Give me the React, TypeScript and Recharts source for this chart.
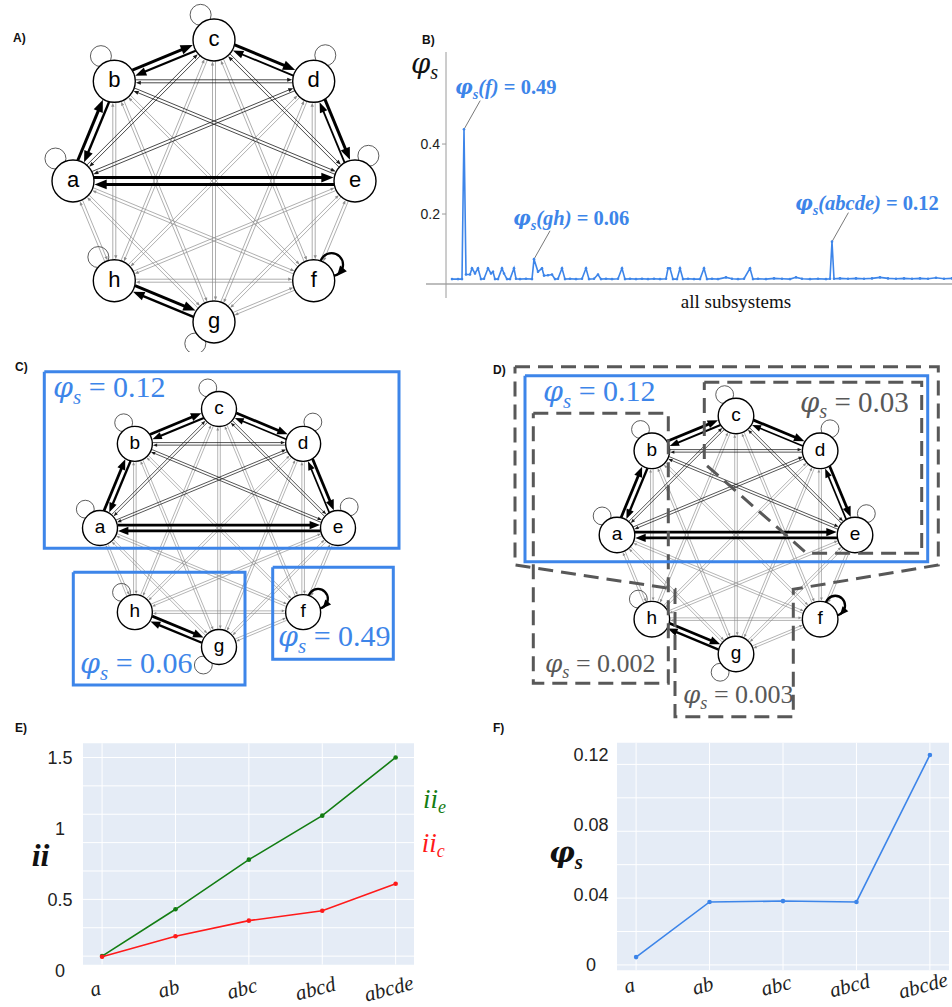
import React from 'react';
import { LineChart, ComposedChart, ScatterChart, Scatter, Line, XAxis, YAxis, ReferenceLine, ReferenceArea } from 'recharts';

const SERIF = "'Liberation Serif','DejaVu Serif','Times New Roman',serif";
const PHIFONT = "'DejaVu Serif','Liberation Serif',serif";
const SANS = "'Liberation Sans',Arial,'DejaVu Sans',sans-serif";
const BLUE = '#3d85e9';
const GREEN = '#137d13';
const RED = '#ff1a1a';
const GRAYBOX = '#585858';
const PLOTBG = '#E5ECF6';

// ---------------- data ----------------
// network: nodes clockwise from the top, every ordered pair is connected
const NODES = ['c', 'd', 'e', 'f', 'g', 'h', 'a', 'b'];
const PAIRS = ['ab', 'ac', 'ad', 'ae', 'af', 'ag', 'ah', 'bc', 'bd', 'be', 'bf', 'bg', 'bh', 'cd', 'ce', 'cf', 'cg', 'ch', 'de', 'df', 'dg', 'dh', 'ef', 'eg', 'eh', 'fg', 'fh', 'gh'];
const STRONG: Record<string, number> = {
  'a>b': 3, 'b>a': 2.5, 'b>c': 3, 'c>b': 2.2, 'c>d': 3, 'd>c': 1.8,
  'd>e': 3, 'e>d': 1.8, 'a>e': 3, 'e>a': 3, 'h>g': 3, 'g>h': 2.5,
};
const CORE = ['a', 'b', 'c', 'd', 'e'];

// panel B: phi_s over all subsystems (index, value)
const B_IDX = [0, 3, 5, 6, 7, 9, 10, 11.5, 13, 14.5, 16, 18, 19.5, 20.5, 21.5, 23, 25, 26, 27.5, 29, 31, 32, 34, 37, 40, 41, 43, 45, 46, 48, 50, 51.5, 53, 55, 56.5, 59, 62, 65, 67, 68.5, 71, 73, 74.5, 77, 80, 83, 85, 86.5, 89, 92, 95, 98, 101, 104, 107, 108, 109, 110.5, 112.5, 114, 115.5, 118, 121, 124, 126, 127.5, 130, 133, 137, 140, 143, 146, 149, 150.5, 153, 157, 161, 165, 169, 172, 175, 179, 183, 187, 189, 190, 191, 194, 198, 202, 206, 210, 214, 218, 222, 226, 230, 234, 238, 242, 246, 250];
const B_VAL = [0.014, 0.014, 0.014, 0.442, 0.027, 0.027, 0.045, 0.030, 0.045, 0.014, 0.015, 0.045, 0.030, 0.035, 0.014, 0.014, 0.045, 0.030, 0.014, 0.014, 0.045, 0.015, 0.014, 0.015, 0.014, 0.071, 0.035, 0.045, 0.024, 0.025, 0.027, 0.014, 0.015, 0.045, 0.014, 0.015, 0.014, 0.015, 0.045, 0.014, 0.015, 0.027, 0.014, 0.015, 0.014, 0.015, 0.045, 0.014, 0.015, 0.014, 0.015, 0.014, 0.015, 0.014, 0.015, 0.045, 0.045, 0.014, 0.014, 0.045, 0.014, 0.015, 0.014, 0.014, 0.045, 0.014, 0.015, 0.014, 0.019, 0.015, 0.014, 0.015, 0.045, 0.014, 0.015, 0.014, 0.016, 0.015, 0.014, 0.019, 0.015, 0.014, 0.015, 0.014, 0.015, 0.121, 0.015, 0.016, 0.015, 0.016, 0.015, 0.016, 0.019, 0.016, 0.015, 0.016, 0.015, 0.016, 0.015, 0.018, 0.015, 0.016];
const B_TICKS = [0.2, 0.4];

// panels E and F
const STAGES = ['a', 'ab', 'abc', 'abcd', 'abcde'];
const II_E = [0.10, 0.43, 0.78, 1.09, 1.50];
const II_C = [0.095, 0.24, 0.35, 0.42, 0.61];
const E_TICKS = [0, 0.5, 1, 1.5];
const E_GRID = [0.1, 0.3, 0.5, 0.7, 0.9, 1.1, 1.3, 1.5];
const PHI_STAGES = [0.0045, 0.036, 0.0365, 0.036, 0.12];
const F_TICKS = [0, 0.04, 0.08, 0.12];
const F_GRID = [0, 0.0191, 0.0382, 0.0573, 0.0764, 0.0955, 0.1146];

// ---------------- layout / style ----------------
const LOOP_ANGLE: Record<string, number> = { c: -28, b: -28, d: 24, a: -38, e: 28, h: -34, g: -139, f: 48 };

type Geo = { left: number; top: number; width: number; height: number; cx: number; cy: number; R: number; nr: number; s: number; font: number };
type Poly = { pts: number[][]; color: string; width: number; dash?: string };

const GEO_A: Geo = { left: 0, top: 0, width: 420, height: 352, cx: 214, cy: 181, R: 141, nr: 21, s: 1, font: 22 };
const GEO_C: Geo = { left: 0, top: 352, width: 420, height: 348, cx: 219, cy: 528, R: 119, nr: 17.5, s: 0.85, font: 19 };
const GEO_D: Geo = { left: 480, top: 352, width: 472, height: 370, cx: 736, cy: 535, R: 119, nr: 17.8, s: 0.85, font: 19 };

const rect = (x1: number, y1: number, x2: number, y2: number) => [[x1, y1], [x2, y1], [x2, y2], [x1, y2]];
const DASH = '15 8';
const POLY_C: Poly[] = [
  { pts: rect(44.3, 371.7, 399, 548.3), color: BLUE, width: 3 },
  { pts: rect(73.3, 572.3, 245, 685), color: BLUE, width: 3 },
  { pts: rect(272.7, 567.3, 393.3, 659.3), color: BLUE, width: 3 },
];
const POLY_D: Poly[] = [
  { pts: [[515, 366.7], [938.3, 366.7], [938.3, 565], [793.3, 589.3], [793.3, 716.7], [675, 716.7], [675, 589.3], [515, 565]], color: GRAYBOX, width: 3, dash: DASH },
  { pts: rect(533.3, 413.3, 668.3, 683.3), color: GRAYBOX, width: 3, dash: DASH },
  { pts: [[704.3, 382.3], [921.7, 382.3], [921.7, 553.3], [806.7, 553.3], [704.3, 463.3]], color: GRAYBOX, width: 3, dash: DASH },
  { pts: rect(525, 375.7, 927.7, 561.7), color: BLUE, width: 3 },
];

const Empty = () => <g />;

function edgeStyle(u: string, v: string) {
  const key = u + '>' + v;
  if (STRONG[key]) return { w: STRONG[key], color: '#000', strong: true, core: true, rank: 2 };
  if (CORE.includes(u) && CORE.includes(v)) return { w: 0.8, color: '#1a1a1a', strong: false, core: true, rank: 1 };
  return { w: 0.7, color: '#8c8c8c', strong: false, core: false, rank: 0 };
}

function edgeSvg(x1: number, y1: number, x2: number, y2: number, e: any, g: Geo, key: number) {
  const dx = x2 - x1, dy = y2 - y1;
  const L = Math.hypot(dx, dy) || 1;
  const ux = dx / L, uy = dy / L;
  const nx = uy, ny = -ux;
  const s = g.s;
  const off = (e.strong ? 1.2 + e.w * 0.75 : 1.5) * s;
  const al = (e.strong ? 8 + e.w * 1.4 : e.core ? 5 : 4) * s;
  const aw = (e.strong ? 2.5 + e.w * 0.8 : e.core ? 2 : 1.6) * s;
  const sx = x1 + ux * g.nr + nx * off, sy = y1 + uy * g.nr + ny * off;
  const tx = x2 - ux * (g.nr + 0.5) + nx * off, ty = y2 - uy * (g.nr + 0.5) + ny * off;
  const bx = tx - ux * al, by = ty - uy * al;
  const sw = e.w * (0.5 + 0.5 * s);
  return (
    <g key={key}>
      <line x1={sx} y1={sy} x2={bx + ux} y2={by + uy} stroke={e.color} strokeWidth={sw} />
      <polygon points={`${tx},${ty} ${bx + nx * aw},${by + ny * aw} ${bx - nx * aw},${by - ny * aw}`} fill={e.color} />
    </g>
  );
}

function nodeSvg(p: any, g: Geo) {
  const { cx, cy, payload } = p;
  const name: string = payload.name;
  const a = (LOOP_ANGLE[name] * Math.PI) / 180;
  const dirx = Math.sin(a), diry = -Math.cos(a);
  let loop: React.ReactNode;
  if (name === 'f') {
    const r = 11.5 * g.s, d = g.nr + 3 * g.s;
    const lx = cx + dirx * d, ly = cy + diry * d;
    const alpha = Math.atan2(diry, dirx);
    const th = alpha + (83 * Math.PI) / 180;
    const px = lx + r * Math.cos(th), py = ly + r * Math.sin(th);
    const tX = -Math.sin(th), tY = Math.cos(th);
    const nX = Math.cos(th), nY = Math.sin(th);
    const al = 10 * g.s, aw = 4.5 * g.s;
    const tipx = px + tX * al * 0.5, tipy = py + tY * al * 0.5;
    const bx = px - tX * al * 0.5, by = py - tY * al * 0.5;
    loop = (
      <g>
        <circle cx={lx} cy={ly} r={r} fill="none" stroke="#000" strokeWidth={2.3} />
        <polygon points={`${tipx},${tipy} ${bx + nX * aw},${by + nY * aw} ${bx - nX * aw},${by - nY * aw}`} fill="#000" />
      </g>
    );
  } else {
    const r = 10.5 * g.s, d = g.nr + 7.5 * g.s;
    loop = <circle cx={cx + dirx * d} cy={cy + diry * d} r={r} fill="none" stroke="#333" strokeWidth={0.8} />;
  }
  return (
    <g>
      {loop}
      <circle cx={cx} cy={cy} r={g.nr} fill="#fff" stroke="#000" strokeWidth={1.4} />
      <text x={cx} y={cy + g.font * 0.27} textAnchor="middle" fontFamily={SANS} fontSize={g.font} fill="#000">{name}</text>
    </g>
  );
}

function Network({ g, polys }: { g: Geo; polys: Poly[] }) {
  const nodeData = NODES.map((name, k) => ({
    name,
    x: g.cx + g.R * Math.sin((k * Math.PI) / 4),
    y: g.cy - g.R * Math.cos((k * Math.PI) / 4),
  }));
  const posOf = (n: string) => nodeData.find((d) => d.name === n)!;
  const edges = PAIRS.flatMap((p) => [[p[0], p[1]], [p[1], p[0]]])
    .map(([u, v]) => ({ u, v, ...edgeStyle(u, v) }))
    .sort((a, b) => a.rank - b.rank);
  const edgePts = edges.flatMap((e) => [
    { x: posOf(e.u).x, y: posOf(e.u).y },
    { x: posOf(e.v).x, y: posOf(e.v).y },
  ]);
  const drawEdges = (props: any) => {
    const pts = props.points || [];
    return (
      <g>
        {edges.map((e, k) => {
          const p1 = pts[2 * k], p2 = pts[2 * k + 1];
          if (!p1 || !p2) return null;
          return edgeSvg(p1.x, p1.y, p2.x, p2.y, e, g, k);
        })}
      </g>
    );
  };
  return (
    <div style={{ position: 'absolute', left: g.left, top: g.top }}>
      <ScatterChart width={g.width} height={g.height} margin={{ top: 0, right: 0, bottom: 0, left: 0 }}>
        <XAxis type="number" dataKey="x" domain={[g.left, g.left + g.width]} hide allowDataOverflow />
        <YAxis type="number" dataKey="y" domain={[g.top, g.top + g.height]} reversed hide allowDataOverflow />
        <Scatter data={edgePts} shape={Empty} line={drawEdges} isAnimationActive={false} />
        <Scatter data={nodeData} shape={(p: any) => nodeSvg(p, g)} isAnimationActive={false} />
        {polys.map((p, k) => (
          <Scatter
            key={k}
            data={[...p.pts, p.pts[0]].map(([x, y]) => ({ x, y }))}
            shape={Empty}
            line={{ stroke: p.color, strokeWidth: p.width, strokeDasharray: p.dash }}
            isAnimationActive={false}
          />
        ))}
      </ScatterChart>
    </div>
  );
}

function PanelB() {
  const data = B_IDX.map((i, k) => ({ i, v: B_VAL[k] }));
  return (
    <div style={{ position: 'absolute', left: 410, top: 20 }}>
      <LineChart width={542} height={300} data={data} margin={{ top: 32, right: 0, bottom: 22, left: 0 }}>
        <XAxis type="number" dataKey="i" domain={[-3, 250]} hide allowDataOverflow />
        <YAxis
          type="number"
          domain={[-0.04, 0.663]}
          ticks={B_TICKS}
          width={36}
          allowDataOverflow
          axisLine={{ stroke: '#9a9a9a' }}
          tickLine={{ stroke: '#9a9a9a' }}
          tickSize={4}
          tickMargin={2}
          tick={{ fontSize: 14, fill: '#222', fontFamily: SANS }}
        />
        <ReferenceLine segment={[{ x: -13, y: 0 }, { x: 250, y: 0 }]} stroke="#bdbdbd" strokeWidth={2} ifOverflow="visible" />
        <ReferenceLine segment={[{ x: 14.1, y: 0.524 }, { x: 6, y: 0.442 }]} stroke="#555" strokeWidth={0.8} ifOverflow="visible" />
        <ReferenceLine segment={[{ x: 49, y: 0.152 }, { x: 41, y: 0.071 }]} stroke="#555" strokeWidth={0.8} ifOverflow="visible" />
        <ReferenceLine segment={[{ x: 198.2, y: 0.204 }, { x: 190, y: 0.121 }]} stroke="#555" strokeWidth={0.8} ifOverflow="visible" />
        <Line dataKey="v" stroke={BLUE} strokeWidth={1.6} dot={{ r: 1.3, fill: BLUE, stroke: BLUE, strokeWidth: 0 }} isAnimationActive={false} />
      </LineChart>
    </div>
  );
}

const makeValTick = (cx: number) => (props: any) => (
  <text x={cx} y={props.y} dy="0.35em" textAnchor="middle" fontFamily={SANS} fontSize={18} fill="#222">
    {String(props.payload.value)}
  </text>
);
const makeStageTick = (dy: number) => (props: any) => {
  const x = props.x - 5, y = props.y + dy;
  return (
    <text x={x} y={y} transform={`rotate(-15 ${x} ${y})`} textAnchor="middle" fontFamily={SERIF} fontStyle="italic" fontSize={21} fill="#222">
      {STAGES[props.payload.value]}
    </text>
  );
};

function PanelE() {
  const data = STAGES.map((s, k) => ({ k, e: II_E[k], c: II_C[k] }));
  return (
    <div style={{ position: 'absolute', left: 0, top: 720 }}>
      <ComposedChart width={476} height={287} data={data} margin={{ top: 23.3, right: 62, bottom: 0, left: 0 }}>
        <XAxis type="number" dataKey="k" domain={[-0.26, 4.25]} ticks={[0, 1, 2, 3, 4]} interval={0} height={36.7} axisLine={false} tickLine={false} tick={makeStageTick(17)} allowDataOverflow />
        <YAxis type="number" domain={[0, 1.6]} ticks={E_TICKS} interval={0} width={83} axisLine={false} tickLine={false} tick={makeValTick(60)} allowDataOverflow />
        <ReferenceArea x1={-0.26} x2={4.25} y1={0.04} y2={1.6} fill={PLOTBG} fillOpacity={1} stroke="none" ifOverflow="visible" />
        {E_GRID.map((v) => (
          <ReferenceLine key={'h' + v} y={v} stroke="#fff" strokeWidth={1} />
        ))}
        {[0, 1, 2, 3, 4].map((k) => (
          <ReferenceLine key={'v' + k} segment={[{ x: k, y: 0.04 }, { x: k, y: 1.6 }]} stroke="#fff" strokeWidth={1} />
        ))}
        <Line dataKey="e" stroke={GREEN} strokeWidth={1.6} dot={{ r: 2.3, fill: GREEN, stroke: GREEN, strokeWidth: 0 }} isAnimationActive={false} />
        <Line dataKey="c" stroke={RED} strokeWidth={1.6} dot={{ r: 2.3, fill: RED, stroke: RED, strokeWidth: 0 }} isAnimationActive={false} />
      </ComposedChart>
    </div>
  );
}

function PanelF() {
  const data = STAGES.map((s, k) => ({ k, p: PHI_STAGES[k] }));
  return (
    <div style={{ position: 'absolute', left: 476, top: 720 }}>
      <ComposedChart width={476} height={287} data={data} margin={{ top: 22.7, right: 3, bottom: 0, left: 0 }}>
        <XAxis type="number" dataKey="k" domain={[-0.26, 4.26]} ticks={[0, 1, 2, 3, 4]} interval={0} height={36.8} axisLine={false} tickLine={false} tick={makeStageTick(14)} allowDataOverflow />
        <YAxis type="number" domain={[-0.003, 0.127]} ticks={F_TICKS} interval={0} width={141} axisLine={false} tickLine={false} tick={makeValTick(115)} allowDataOverflow />
        <ReferenceArea x1={-0.26} x2={4.26} y1={-0.003} y2={0.127} fill={PLOTBG} fillOpacity={1} stroke="none" ifOverflow="visible" />
        {F_GRID.map((v) => (
          <ReferenceLine key={'h' + v} y={v} stroke="#fff" strokeWidth={1} />
        ))}
        {[0, 1, 2, 3, 4].map((k) => (
          <ReferenceLine key={'v' + k} x={k} stroke="#fff" strokeWidth={1} />
        ))}
        <Line dataKey="p" stroke={BLUE} strokeWidth={1.6} dot={{ r: 2.3, fill: BLUE, stroke: BLUE, strokeWidth: 0 }} isAnimationActive={false} />
      </ComposedChart>
    </div>
  );
}

function Phi({ x, y, size, color, rest, arg, bold }: { x: number; y: number; size: number; color: string; rest: string; arg?: string; bold?: boolean }) {
  const sub = size * 0.7;
  const dy = size * 0.22;
  return (
    <text x={x} y={y} fontFamily={SERIF} fontSize={size} fill={color} fontWeight={bold ? 'bold' : 'normal'} style={{ whiteSpace: 'pre' }}>
      <tspan fontStyle="italic" fontFamily={PHIFONT} fontSize={size * 0.95}>φ</tspan>
      <tspan fontStyle="italic" fontSize={sub} dy={dy}>s</tspan>
      {arg ? (
        <>
          <tspan dy={-dy} fontStyle="italic">{arg}</tspan>
          <tspan>{rest}</tspan>
        </>
      ) : (
        <tspan dy={-dy}>{rest}</tspan>
      )}
    </text>
  );
}

function Overlay() {
  const letter = (t: string, x: number, y: number) => (
    <text x={x} y={y} fontFamily={SANS} fontWeight="bold" fontSize={12} fill="#111">{t}</text>
  );
  return (
    <svg width={952} height={1007} style={{ position: 'absolute', left: 0, top: 0, pointerEvents: 'none' }}>
      {letter('A)', 13, 42)}
      {letter('B)', 422, 44)}
      {letter('C)', 15, 371)}
      {letter('D)', 493, 374)}
      {letter('E)', 15, 732)}
      {letter('F)', 493, 732)}

      {/* B */}
      <Phi x={411} y={73} size={29} color="#111" rest="" />
      <Phi x={455} y={94} size={20.5} color={BLUE} arg="(f)" rest=" = 0.49" bold />
      <Phi x={513} y={225} size={20.5} color={BLUE} arg="(gh)" rest=" = 0.06" bold />
      <Phi x={795} y={210} size={20.5} color={BLUE} arg="(abcde)" rest=" = 0.12" bold />
      <text x={736} y={308} textAnchor="middle" fontFamily={SERIF} fontSize={19} fill="#111">all subsystems</text>

      {/* C */}
      <Phi x={53} y={397} size={30} color={BLUE} rest=" = 0.12" />
      <Phi x={80} y={673} size={30} color={BLUE} rest=" = 0.06" />
      <Phi x={278} y={646} size={30} color={BLUE} rest=" = 0.49" />

      {/* D */}
      <Phi x={543} y={401} size={30} color={BLUE} rest=" = 0.12" />
      <Phi x={800} y={412} size={29} color={GRAYBOX} rest=" = 0.03" />
      <Phi x={545} y={672} size={26} color={GRAYBOX} rest=" = 0.002" />
      <Phi x={683} y={703} size={26} color={GRAYBOX} rest=" = 0.003" />

      {/* E */}
      <text x={31.7} y={865.7} fontFamily={SERIF} fontStyle="italic" fontWeight="bold" fontSize={32} fill="#111">ii</text>
      <text x={423} y={808} fontFamily={SERIF} fontStyle="italic" fontSize={27} fill={GREEN}>
        <tspan>ii</tspan>
        <tspan fontSize={18} dy={5}>e</tspan>
      </text>
      <text x={421.7} y={851.7} fontFamily={SERIF} fontStyle="italic" fontSize={27} fill={RED}>
        <tspan>ii</tspan>
        <tspan fontSize={18} dy={5}>c</tspan>
      </text>

      {/* F */}
      <Phi x={549} y={862} size={30} color="#111" rest="" bold />
    </svg>
  );
}

export default function App() {
  return (
    <div style={{ position: 'absolute', left: 0, top: 0, width: 952, height: 1007, background: '#fff', overflow: 'hidden' }}>
      <Network g={GEO_A} polys={[]} />
      <PanelB />
      <Network g={GEO_C} polys={POLY_C} />
      <Network g={GEO_D} polys={POLY_D} />
      <PanelE />
      <PanelF />
      <Overlay />
    </div>
  );
}
